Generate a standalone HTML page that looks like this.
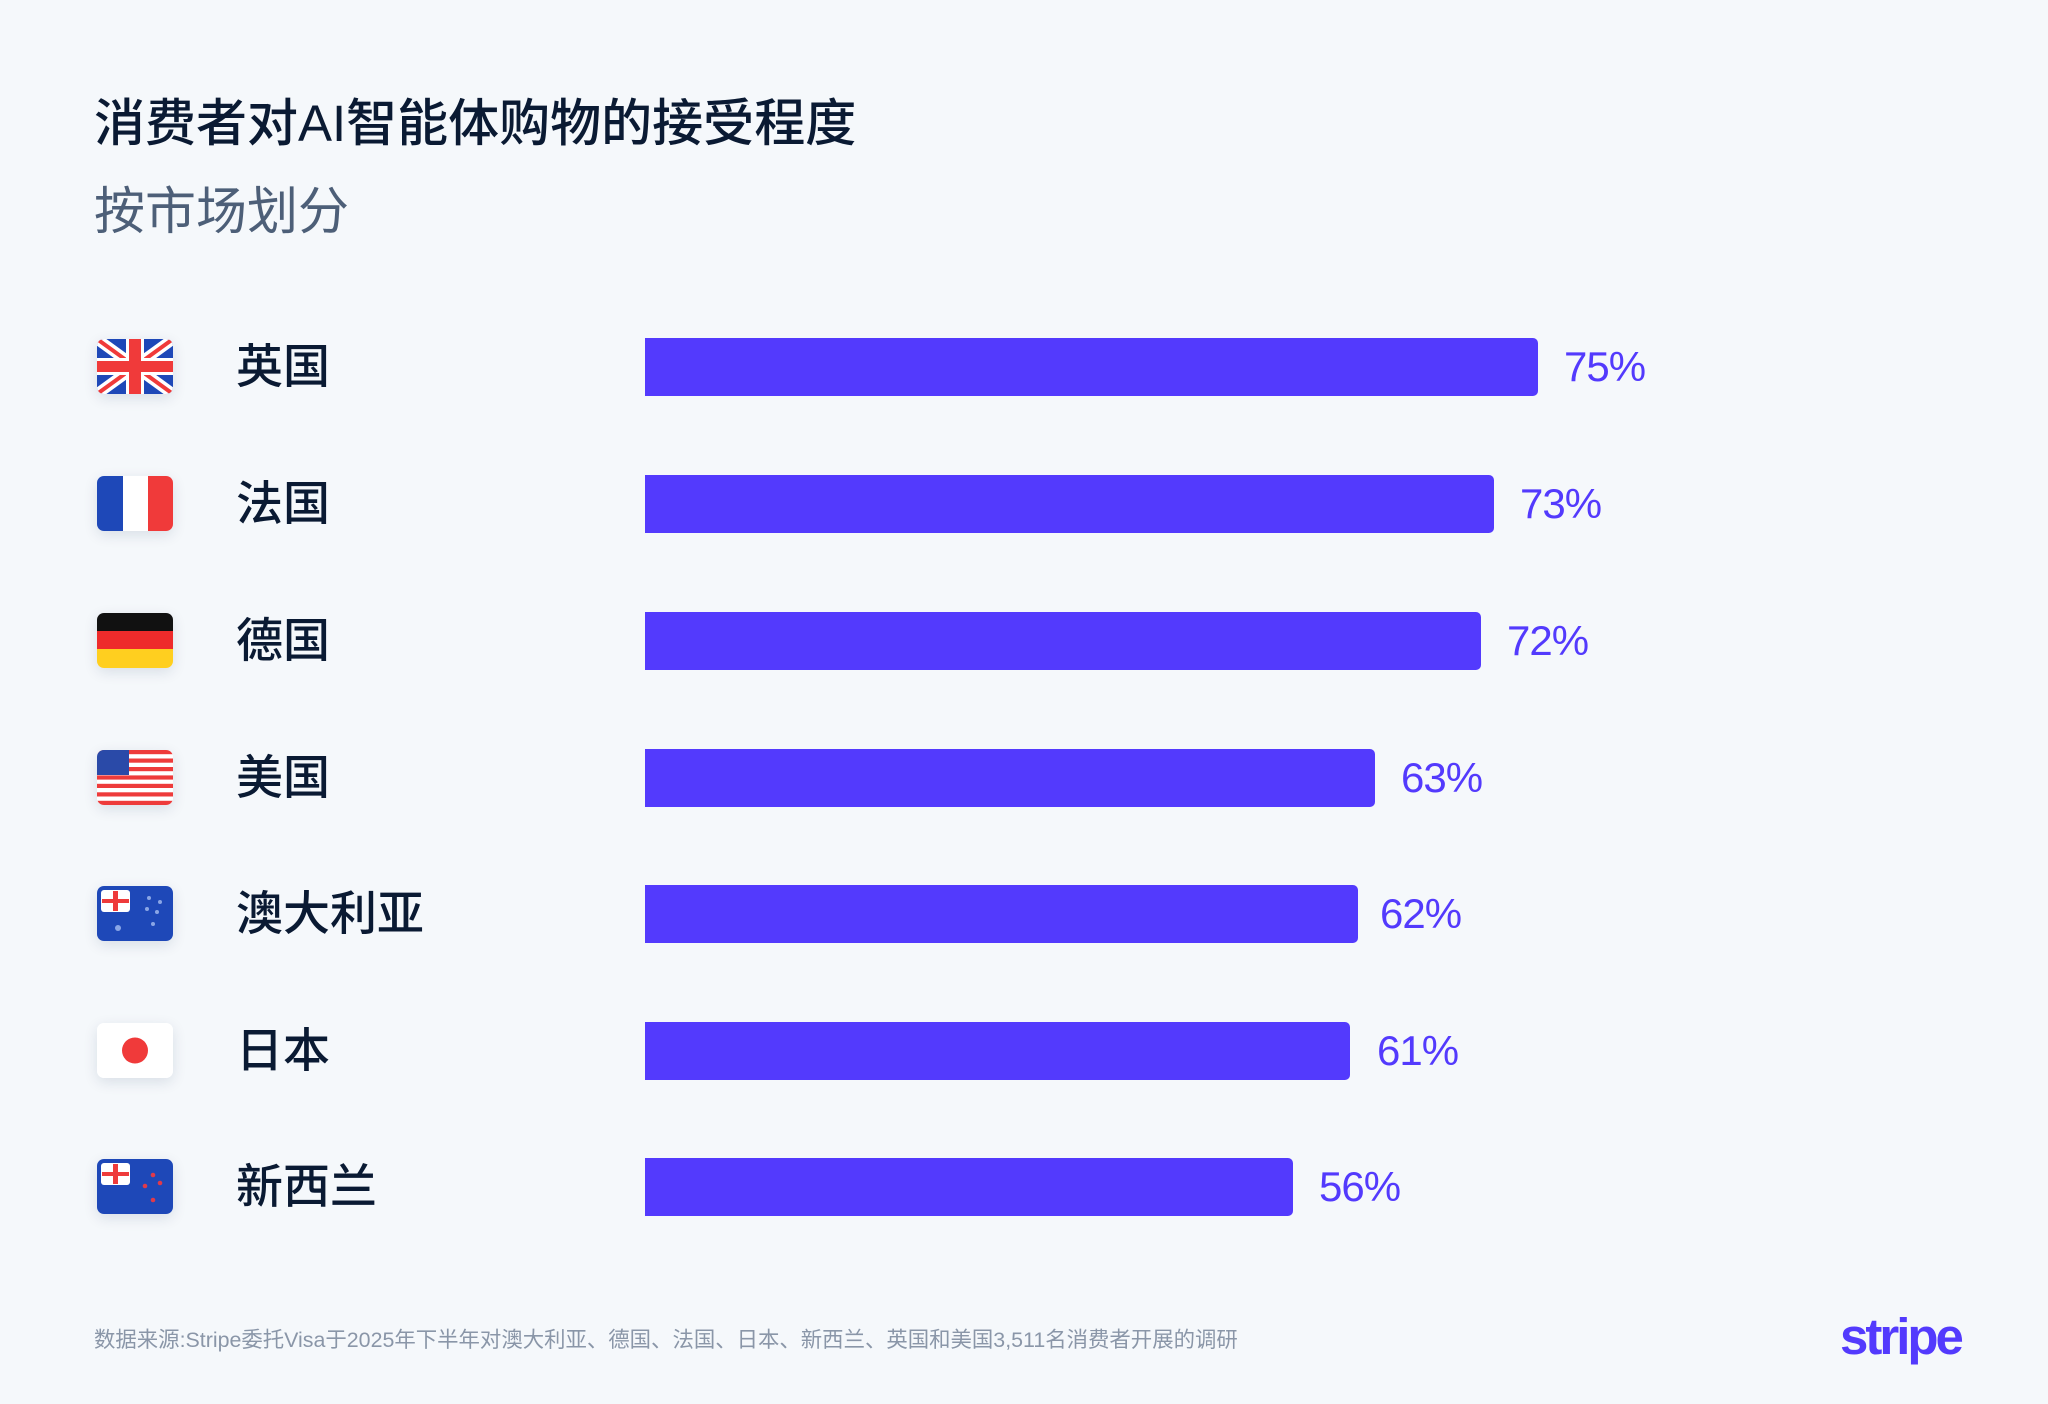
<!DOCTYPE html>
<html><head><meta charset="utf-8"><style>
html,body{margin:0;padding:0}
body{width:2048px;height:1404px;background:#f5f8fb;position:relative;overflow:hidden;font-family:"Liberation Sans","Noto Sans CJK SC",sans-serif}
.a{position:absolute;white-space:nowrap}
.t{left:94px;top:94px;font-size:51px;font-weight:500;color:#0a1a33;line-height:60px}
.s{left:94px;top:182px;font-size:51px;color:#4d5f78;line-height:60px}
.lab{left:236px;font-size:47px;color:#0a1a33;line-height:56px;font-weight:500}
.bar{left:645px;height:58px;background:#533afd;border-radius:0 5px 5px 0}
.val{font-size:42px;color:#533afd;line-height:56px;letter-spacing:-1px}
.flag{left:97px;width:76px;height:55px;border-radius:7px;overflow:hidden;box-shadow:0 4px 14px rgba(20,40,80,.12)}
.foot{left:94px;top:1325px;font-size:21.4px;color:#8a96a8;line-height:30px}
.logo{left:1840px;top:1302px;font-size:51px;font-weight:bold;color:#533afd;letter-spacing:-3px;line-height:70px}
</style></head><body>
<div class="a t">消费者对AI智能体购物的接受程度</div>
<div class="a s">按市场划分</div>

<div class="a flag" style="top:339px"><svg width="76" height="55" viewBox="0 0 76 55"><rect width="76" height="55" fill="#1e48b8"/><path d="M0 0L76 55M76 0L0 55" stroke="#fff" stroke-width="11"/><path d="M0 0L76 55M76 0L0 55" stroke="#f03a3a" stroke-width="4"/><rect x="29" width="18" height="55" fill="#fff"/><rect y="19" width="76" height="17" fill="#fff"/><rect x="32" width="12" height="55" fill="#f03a3a"/><rect y="22" width="76" height="11" fill="#f03a3a"/></svg></div>
<div class="a lab" style="top:339px">英国</div>
<div class="a bar" style="top:338px;width:893px"></div>
<div class="a val" style="left:1564px;top:339px">75%</div>

<div class="a flag" style="top:476px"><svg width="76" height="55"><rect width="26" height="55" fill="#1e48b8"/><rect x="26" width="25" height="55" fill="#fff"/><rect x="51" width="25" height="55" fill="#f03a3a"/></svg></div>
<div class="a lab" style="top:476px">法国</div>
<div class="a bar" style="top:475px;width:849px"></div>
<div class="a val" style="left:1520px;top:476px">73%</div>

<div class="a flag" style="top:613px"><svg width="76" height="55"><rect width="76" height="19" fill="#111"/><rect y="18" width="76" height="19" fill="#ee2b2b"/><rect y="36" width="76" height="19" fill="#ffcf1f"/></svg></div>
<div class="a lab" style="top:613px">德国</div>
<div class="a bar" style="top:612px;width:836px"></div>
<div class="a val" style="left:1507px;top:613px">72%</div>

<div class="a flag" style="top:750px"><svg width="76" height="55"><rect width="76" height="55" fill="#fff"/><g fill="#ee3b3b"><rect y="0" width="76" height="4.2"/><rect y="8.5" width="76" height="4.2"/><rect y="17" width="76" height="4.2"/><rect y="25.4" width="76" height="4.2"/><rect y="33.8" width="76" height="4.2"/><rect y="42.3" width="76" height="4.2"/><rect y="50.8" width="76" height="4.2"/></g><rect width="32" height="25" fill="#2a4aa8"/></svg></div>
<div class="a lab" style="top:750px">美国</div>
<div class="a bar" style="top:749px;width:730px"></div>
<div class="a val" style="left:1401px;top:750px">63%</div>

<div class="a flag" style="top:886px"><svg width="76" height="55"><rect width="76" height="55" fill="#1e48b8"/><rect x="4" y="4" width="29" height="22" rx="3" fill="#fff"/><rect x="16" y="5" width="5" height="20" fill="#ee3b3b"/><rect x="5" y="13" width="27" height="4" fill="#ee3b3b"/><g fill="#8aa6e6"><circle cx="52" cy="12" r="2"/><circle cx="63" cy="16" r="2"/><circle cx="50" cy="23" r="2"/><circle cx="60" cy="26" r="2"/><circle cx="56" cy="38" r="2"/><circle cx="21" cy="42" r="3"/></g></svg></div>
<div class="a lab" style="top:886px">澳大利亚</div>
<div class="a bar" style="top:885px;width:713px"></div>
<div class="a val" style="left:1380px;top:886px">62%</div>

<div class="a flag" style="top:1023px"><svg width="76" height="55"><rect width="76" height="55" fill="#fff"/><circle cx="38" cy="27.5" r="13" fill="#f03a3a"/></svg></div>
<div class="a lab" style="top:1023px">日本</div>
<div class="a bar" style="top:1022px;width:705px"></div>
<div class="a val" style="left:1377px;top:1023px">61%</div>

<div class="a flag" style="top:1159px"><svg width="76" height="55"><rect width="76" height="55" fill="#1e48b8"/><rect x="4" y="4" width="29" height="22" rx="3" fill="#fff"/><rect x="16" y="5" width="5" height="20" fill="#ee3b3b"/><rect x="5" y="13" width="27" height="4" fill="#ee3b3b"/><g fill="#e03a4a"><circle cx="56" cy="16" r="2.3"/><circle cx="48" cy="27" r="2.3"/><circle cx="63" cy="24" r="2.3"/><circle cx="56" cy="41" r="2.3"/></g></svg></div>
<div class="a lab" style="top:1159px">新西兰</div>
<div class="a bar" style="top:1158px;width:648px"></div>
<div class="a val" style="left:1319px;top:1159px">56%</div>

<div class="a foot">数据来源:Stripe委托Visa于2025年下半年对澳大利亚、德国、法国、日本、新西兰、英国和美国3,511名消费者开展的调研</div>
<div class="a logo">stripe</div>
</body></html>
